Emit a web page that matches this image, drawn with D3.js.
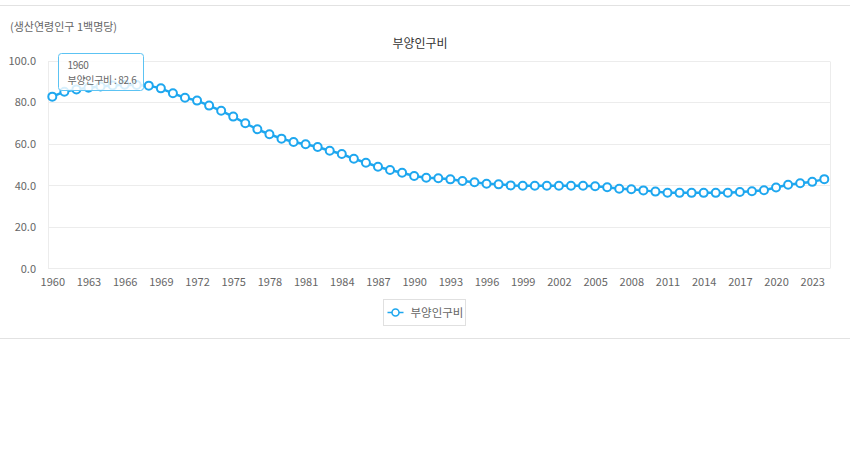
<!DOCTYPE html>
<html><head><meta charset="utf-8">
<script src="https://cdn.jsdelivr.net/npm/d3@7"></script>
<style>
body{margin:0;background:#fff;font-family:"Noto Sans CJK KR","Noto Sans",sans-serif;}
svg{display:block;}
</style></head><body>
<svg id="c" width="850" height="450"></svg>
<script>
const years = d3.range(1960, 2025);
const values = [82.6,85.0,86.1,86.9,87.5,88.0,88.3,88.2,87.9,86.6,
84.2,82.1,80.7,78.3,75.8,73.0,69.8,66.9,64.5,62.4,
60.8,59.7,58.4,56.6,55.0,52.7,50.8,48.9,47.3,46.0,
44.4,43.6,43.3,42.8,42.0,41.4,40.7,40.4,39.9,39.7,
39.7,39.7,39.7,39.7,39.7,39.5,39.0,38.3,38.0,37.5,
36.9,36.4,36.3,36.3,36.3,36.3,36.4,36.7,37.1,37.6,
38.9,40.2,40.9,41.6,42.9];
const yTicks = [0,20,40,60,80,100];
const xTickYears = d3.range(1960, 2025, 3);
const seriesName = "부양인구비";
const unitLabel = "(생산연령인구 1백명당)";

const svg = d3.select("#c");
const blue = "#1ea7ef";
const L = 48, R = 830, T = 60.5, B = 268.3;
const x = d3.scaleLinear().domain([1960, 2024]).range([52.3, 824.3]);
const y = d3.scaleLinear().domain([0, 100]).range([B, T]);

// top / bottom separators
svg.append("line").attr("x1",0).attr("x2",850).attr("y1",5.5).attr("y2",5.5).attr("stroke","#e2e2e2");
svg.append("line").attr("x1",0).attr("x2",850).attr("y1",338.5).attr("y2",338.5).attr("stroke","#e2e2e2");

svg.append("text").attr("x",10).attr("y",31).attr("font-size",11).attr("fill","#666").text(unitLabel);
svg.append("text").attr("x",420).attr("y",48).attr("text-anchor","middle").attr("font-size",12).attr("fill","#333").text(seriesName);

// grid
svg.append("g").selectAll("line").data(yTicks).join("line")
  .attr("x1",L).attr("x2",R).attr("y1",d=>Math.round(y(d))+0.5).attr("y2",d=>Math.round(y(d))+0.5)
  .attr("stroke","#ececec");
svg.append("line").attr("x1",R+0.5).attr("x2",R+0.5).attr("y1",Math.round(T)+0.5).attr("y2",Math.round(B)+0.5).attr("stroke","#ececec");
svg.append("line").attr("x1",L+0.5).attr("x2",L+0.5).attr("y1",Math.round(T)+0.5).attr("y2",Math.round(B)+0.5).attr("stroke","#ececec");

// y axis labels
const yAxis = d3.axisLeft(y).tickValues(yTicks).tickFormat(d3.format(".1f")).tickSize(0).tickPadding(0);
const gy = svg.append("g").attr("transform",`translate(36,0)`).call(yAxis);
gy.select(".domain").remove();
gy.selectAll("text").attr("font-size",11).attr("fill","#666").attr("font-family","'Noto Sans CJK KR',sans-serif").attr("dy","0.35em");

// x axis labels
const xAxis = d3.axisBottom(x).tickValues(xTickYears).tickFormat(d3.format("d")).tickSize(0).tickPadding(0);
const gx = svg.append("g").attr("transform",`translate(0,278)`).call(xAxis);
gx.select(".domain").remove();
gx.selectAll("text").attr("font-size",11).attr("fill","#666").attr("font-family","'Noto Sans CJK KR',sans-serif").attr("dy","0.71em");

// line
const data = years.map((yr,i)=>({yr, v:values[i]}));
svg.append("path").datum(data).attr("fill","none").attr("stroke",blue).attr("stroke-width",2.5)
  .attr("d", d3.line().x(d=>x(d.yr)).y(d=>y(d.v)));
svg.append("g").selectAll("circle").data(data).join("circle")
  .attr("cx",d=>x(d.yr)).attr("cy",d=>y(d.v)).attr("r",4)
  .attr("fill","#fff").attr("stroke",blue).attr("stroke-width",2);

// tooltip
const tt = svg.append("g").attr("transform","translate(58.5,53.5)");
tt.append("rect").attr("width",85).attr("height",37).attr("rx",3)
  .attr("fill","rgba(255,255,255,0.82)").attr("stroke","#5cc3f3").attr("stroke-width",1);
tt.append("text").attr("x",9).attr("y",15).attr("font-size",10).attr("fill","#666").attr("letter-spacing","-0.3").text(String(years[0]));
tt.append("text").attr("x",9).attr("y",30.5).attr("font-size",10).attr("fill","#666").attr("letter-spacing","-0.3").text(`${seriesName} : ${values[0]}`);

// legend
const lg = svg.append("g").attr("transform","translate(383.5,299.5)");
lg.append("rect").attr("width",82).attr("height",26).attr("fill","#fff").attr("stroke","#e0e0e0");
lg.append("line").attr("x1",4).attr("x2",20).attr("y1",13).attr("y2",13).attr("stroke",blue).attr("stroke-width",1.5);
lg.append("circle").attr("cx",12).attr("cy",13).attr("r",3.5).attr("fill","#fff").attr("stroke",blue).attr("stroke-width",1.5);
lg.append("text").attr("x",27).attr("y",17).attr("font-size",11.5).attr("fill","#666").text(seriesName);
</script>
</body></html>
